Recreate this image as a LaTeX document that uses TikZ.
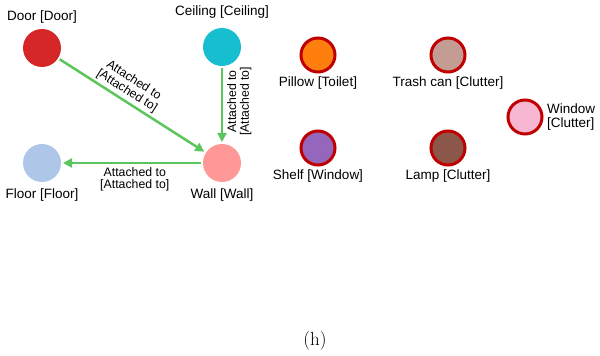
\documentclass[tikz,border=0pt]{standalone}
\usepackage{fontspec}
\newfontfamily\arialfont{Liberation Sans}
\usetikzlibrary{arrows.meta,positioning}
\usepackage{xcolor}
\definecolor{doorc}{HTML}{D62728}
\definecolor{ceilingc}{HTML}{17BECF}
\definecolor{floorc}{HTML}{AEC7E8}
\definecolor{wallc}{HTML}{FF9896}
\definecolor{pillowc}{HTML}{FF7F0E}
\definecolor{trashc}{HTML}{C49C94}
\definecolor{windowc}{HTML}{F7B6D2}
\definecolor{shelfc}{HTML}{9467BD}
\definecolor{lampc}{HTML}{8C564B}
\definecolor{ringred}{HTML}{C00000}
\definecolor{relgreen}{HTML}{5CC65C}

\begin{document}
\begin{tikzpicture}[x=1pt, y=1pt,
		main/.style = {circle, minimum size=38pt, inner sep=0pt, outer sep=2pt},
		odd/.style = {main, draw=ringred, line width=3pt, minimum size=34pt},
		every label/.style = {font=\arialfont\fontsize{13.5}{14}\selectfont, inner sep=3pt},
		rel/.style = {draw=relgreen, line width=2.5pt, -{Triangle[length=9pt, width=9pt]}},
		rellabel/.style = {font=\arialfont\fontsize{12.3}{12.6}\selectfont, align=center, inner sep=1pt}]
			\useasboundingbox (0,0) rectangle (600,356);
			\node[main, fill=doorc] (door) at (42,308) [label={above:Door [Door]}] {};
			\node[main, fill=ceilingc] (ceiling) at (222,309) [label={[label distance=4pt]above:Ceiling [Ceiling]}] {};
			\node[main, fill=floorc] (floor) at (42,193) [label={[label distance=2pt]below:Floor [Floor]}] {};
			\node[main, fill=wallc] (wall) at (222,193) [label={[label distance=2pt]below:Wall [Wall]}] {};
			\node[odd, fill=pillowc] (pillow) at (318,301) [label={below:Pillow [Toilet]}] {};
			\node[odd, fill=trashc] (trash) at (448,301) [label={below:Trash can [Clutter]}] {};
			\node[odd, fill=windowc] (window) at (525,239) [label={[align=left]right:Window\\{}[Clutter]}] {};
			\node[odd, fill=shelfc] (shelf) at (318,208) [label={below:Shelf [Window]}] {};
			\node[odd, fill=lampc] (lamp) at (448,208) [label={below:Lamp [Clutter]}] {};
			\draw[rel] (door) -- node[rellabel, above=1.5pt, sloped, pos=0.43] {Attached to\\{}[Attached to]} (wall);
			\draw[rel] (ceiling) -- node[rellabel, rotate=90, anchor=north, inner sep=4pt, pos=0.45] {Attached to\\{}[Attached to]} (wall);
			\draw[rel] (wall) -- node[rellabel, below=2pt, pos=0.48] {Attached to\\{}[Attached to]} (floor);
			\node[font=\fontsize{19}{21}\selectfont] (caption) at (315,15) {(h)};
		\end{tikzpicture}
\end{document}
